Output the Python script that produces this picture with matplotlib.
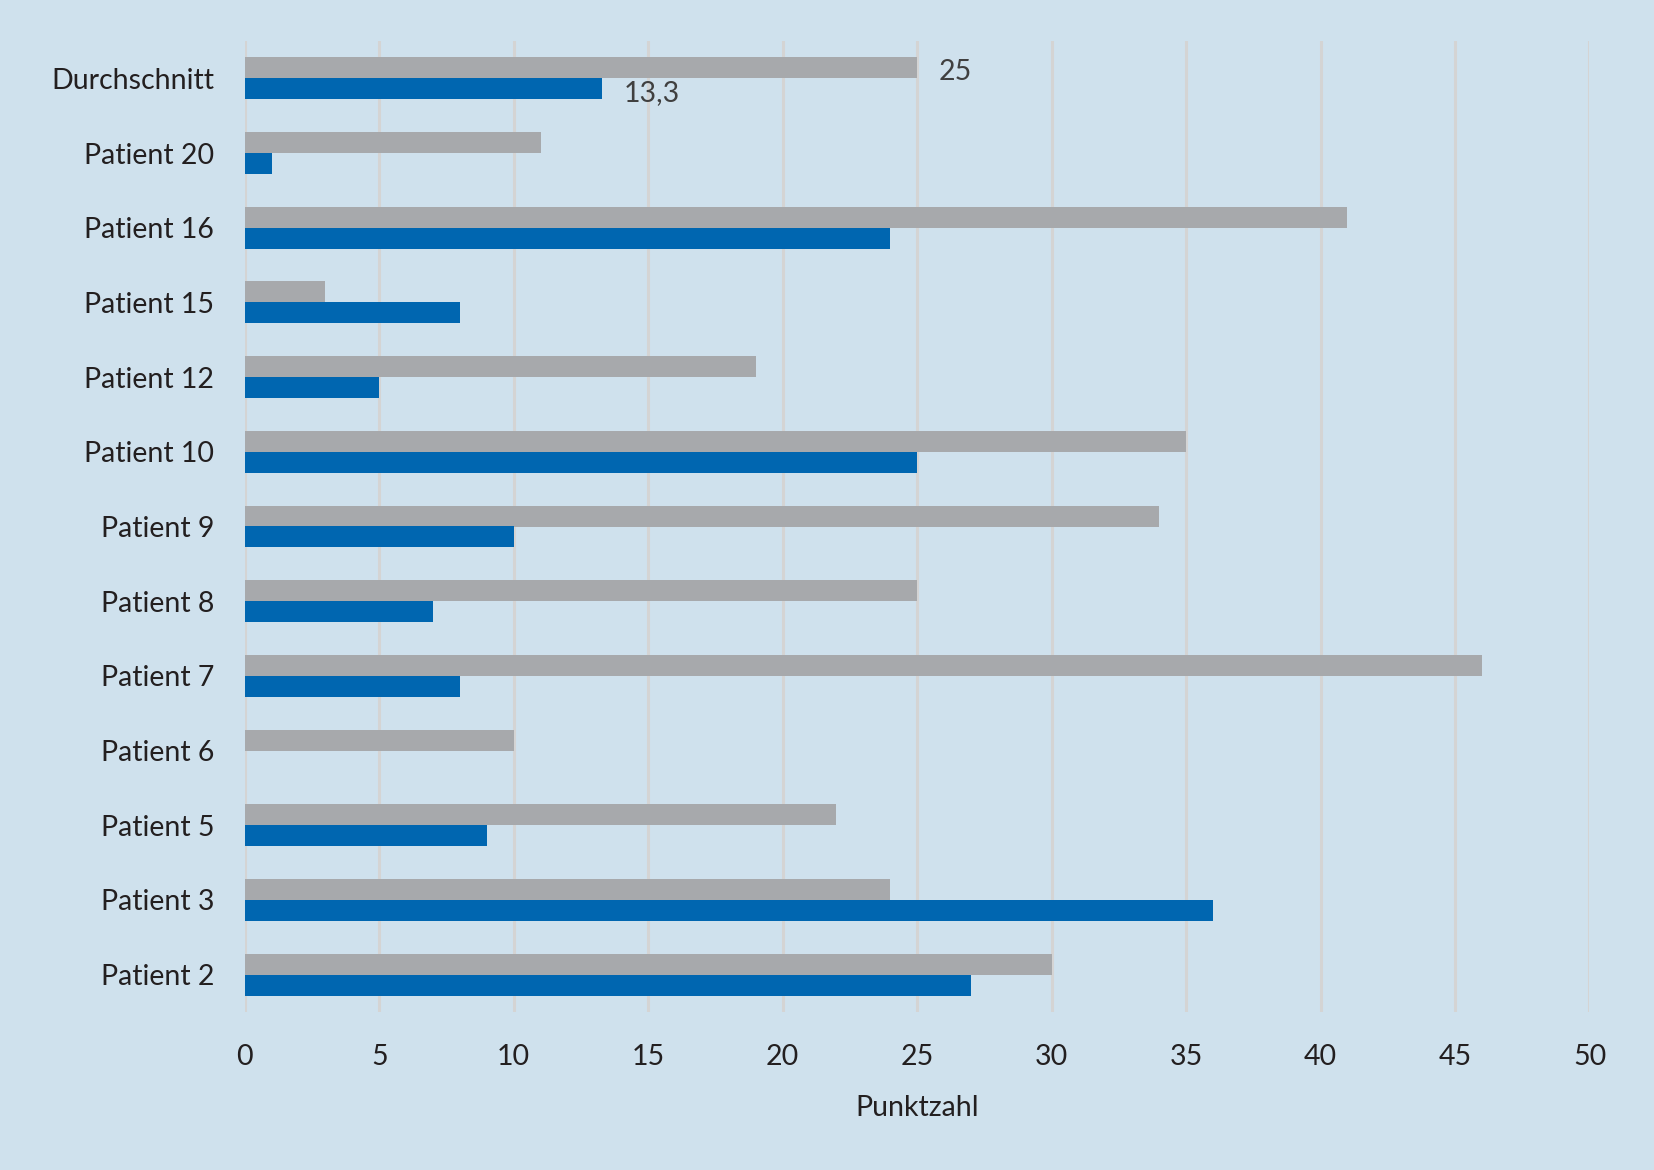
import matplotlib
matplotlib.use("Agg")
import matplotlib.pyplot as plt
import numpy as np

categories = ["Patient 2", "Patient 3", "Patient 5", "Patient 6", "Patient 7", "Patient 8",
              "Patient 9", "Patient 10", "Patient 12", "Patient 15", "Patient 16",
              "Patient 20", "Durchschnitt"]
gray_values = [30, 24, 22, 10, 46, 25, 34, 35, 19, 3, 41, 11, 25]
blue_values = [27, 36, 9, 0, 8, 7, 10, 25, 5, 8, 24, 1, 13.3]
x_ticks = [0, 5, 10, 15, 20, 25, 30, 35, 40, 45, 50]
x_label = "Punktzahl"

plt.rcParams['font.family'] = ['Lato', 'DejaVu Sans']
bg = "#CFE1ED"
fs = 20.5
fig = plt.figure(figsize=(16.54, 11.70), dpi=100, facecolor=bg)
ax = fig.add_axes([0.148, 0.135, 0.813, 0.830], facecolor=bg)

y = np.arange(len(categories))
h = 0.28
ax.barh(y + h/2, gray_values, height=h, color="#A7A9AC", zorder=3)
ax.barh(y - h/2, blue_values, height=h, color="#0066B0", zorder=3)

ax.set_xlim(0, 50)
ax.set_ylim(-0.5, 12.5)
ax.set_xticks(x_ticks)
ax.set_xticklabels([str(t) for t in x_ticks])
ax.set_yticks(y)
ax.set_yticklabels(categories)
ax.tick_params(axis='both', length=0, labelsize=fs, colors="#231F20")
ax.tick_params(axis='x', pad=23)
ax.tick_params(axis='y', pad=22)
ax.grid(axis='x', color="#D4D4D4", linewidth=2.2, zorder=0)
for s in ax.spines.values():
    s.set_visible(False)
ax.set_xlabel(x_label, fontsize=fs, color="#231F20", labelpad=18)

last = len(categories) - 1
ax.text(gray_values[last] + 0.8, last + h/2 - 0.06, "25", va='center', ha='left',
        fontsize=fs, color="#404040", zorder=4)
ax.text(blue_values[last] + 0.8, last - h/2 - 0.06, "13,3", va='center', ha='left',
        fontsize=fs, color="#404040", zorder=4)

fig.savefig("out.png", dpi=100, facecolor=bg)
